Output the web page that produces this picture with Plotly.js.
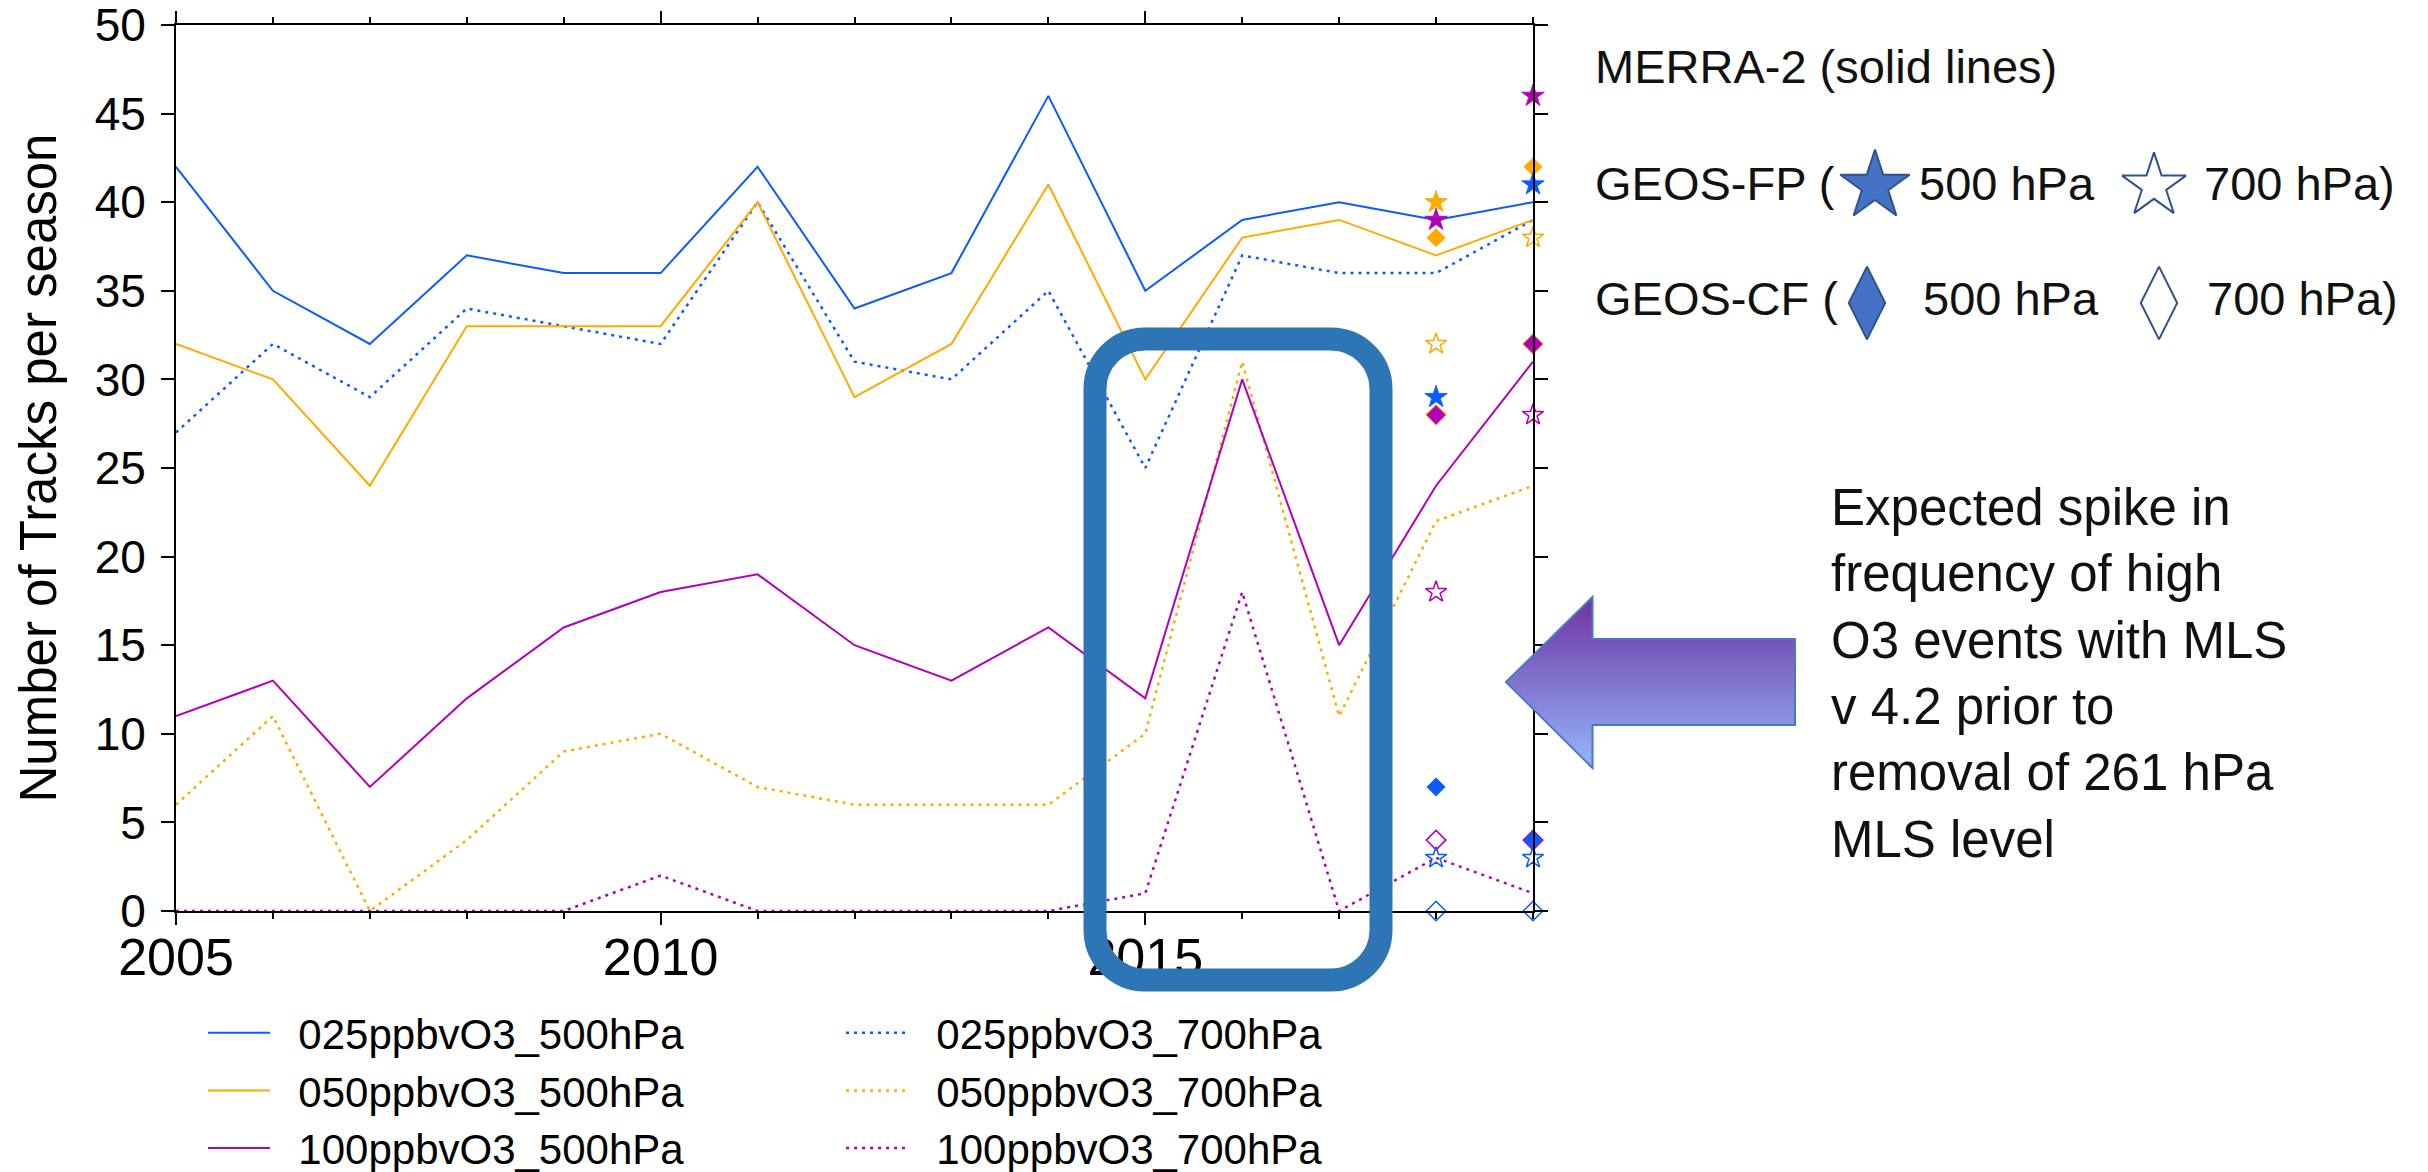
<!DOCTYPE html>
<html>
<head>
<meta charset="utf-8">
<script src="https://cdn.plot.ly/plotly-3.0.1.min.js"></script>
<style>html,body{margin:0;padding:0;background:#fff;}#chart{width:2428px;height:1172px;}</style>
</head>
<body>
<div id="chart"></div>
<script>
// ---------------- data ----------------
const years = [2005,2006,2007,2008,2009,2010,2011,2012,2013,2014,2015,2016,2017,2018,2019];
const o3_025_500 = [42,35,32,37,36,36,42,34,36,46,35,39,40,39,40];
const o3_050_500 = [32,30,24,33,33,33,40,29,32,41,30,38,39,37,39];
const o3_100_500 = [11,13,7,12,16,18,19,15,13,16,12,30,15,24,31];
const o3_025_700 = [27,32,29,34,33,32,40,31,30,35,25,37,36,36,39];
const o3_050_700 = [6,11,0,4,9,10,7,6,6,6,10,31,11,22,24];
const o3_100_700 = [0,0,0,0,0,2,0,0,0,0,1,18,0,3,1];

const geosYears = [2018, 2019];
const fp500_025 = [29, 41];
const fp500_050 = [40, null];
const fp500_100 = [39, 46];
const fp700_025 = [3, 3];
const fp700_050 = [32, 38];
const fp700_100 = [18, 28];
const cf500_025 = [7, 4];
const cf500_050 = [38, 42];
const cf500_100 = [28, 32];
const cf700_025 = [0, 0];
const cf700_050 = [28, 32];
const cf700_100 = [4, 4];

const seriesNames = ['025ppbvO3_500hPa','025ppbvO3_700hPa','050ppbvO3_500hPa','050ppbvO3_700hPa','100ppbvO3_500hPa','100ppbvO3_700hPa'];
const xTickVals = [2005, 2010, 2015];
const xTickText = ['2005', '2010', '2015'];
const yTickVals = [0, 5, 10, 15, 20, 25, 30, 35, 40, 45, 50];

// ---------------- styles ----------------
const BLUE = '#0a5aff', ORANGE = '#ffaa00', MAG = '#b200ba';
const FONT = 'Liberation Sans, Arial, Helvetica, sans-serif';
const DOT = '3px,5px';
const LEG_PAD = '\u00a0\u00a0';

function lineTrace(y, name, color, dotted) {
  return {x: years, y: y, name: LEG_PAD + name, type: 'scatter', mode: 'lines',
    legend: dotted ? 'legend2' : 'legend',
    line: {color: color, width: dotted ? 2.5 : 2, dash: dotted ? DOT : 'solid'},
    hoverinfo: 'skip'};
}
function markTrace(y, color, symbol, size, open) {
  return {x: geosYears, y: y, type: 'scatter', mode: 'markers', showlegend: false,
    cliponaxis: false, hoverinfo: 'skip',
    marker: {symbol: symbol, size: size, color: color,
      line: {color: color, width: open ? 1.5 : 0.8}}};
}

const traces = [
  lineTrace(o3_025_500, seriesNames[0], BLUE, false),
  lineTrace(o3_025_700, seriesNames[1], BLUE, true),
  lineTrace(o3_050_500, seriesNames[2], ORANGE, false),
  lineTrace(o3_050_700, seriesNames[3], ORANGE, true),
  lineTrace(o3_100_500, seriesNames[4], MAG, false),
  lineTrace(o3_100_700, seriesNames[5], MAG, true),
  // GEOS-CF 700 hPa (open diamonds)
  markTrace(cf700_050, ORANGE, 'diamond-open', 15, true),
  markTrace(cf700_100, MAG, 'diamond-open', 15, true),
  markTrace(cf700_025, BLUE, 'diamond-open', 15, true),
  // GEOS-CF 500 hPa (filled diamonds)
  markTrace(cf500_100, MAG, 'diamond', 14, false),
  markTrace(cf500_050, ORANGE, 'diamond', 14, false),
  markTrace(cf500_025, BLUE, 'diamond', 14, false),
  // GEOS-FP 700 hPa (open stars)
  markTrace(fp700_050, ORANGE, 'star-open', 16, true),
  markTrace(fp700_100, MAG, 'star-open', 16, true),
  markTrace(fp700_025, BLUE, 'star-open', 16, true),
  // GEOS-FP 500 hPa (filled stars)
  markTrace(fp500_025, BLUE, 'star', 17, false),
  markTrace(fp500_050, ORANGE, 'star', 17, false),
  markTrace(fp500_100, MAG, 'star', 17, false)
];

// ---------------- layout geometry (pixels -> paper) ----------------
const FIG_W = 2428, FIG_H = 1172;
const ML = 176, MT = 25, PH = 886;             // plot area top / height
const PAPER_W = FIG_W - ML;                    // paper spans to right edge
const AXIS_W = 1357;                           // width of the data axes
function PX(px) { return (px - ML) / PAPER_W; }
function PY(py) { return (MT + PH - py) / PH; }

// key markers (symbol legend for GEOS) on a full-width overlay subplot
const keyTraceBase = {xaxis: 'x2', yaxis: 'y2', type: 'scatter', mode: 'markers',
  showlegend: false, cliponaxis: false, hoverinfo: 'skip'};
traces.push(Object.assign({}, keyTraceBase, {x: [PX(1875)], y: [PY(186)],
  marker: {symbol: 'star', size: 52, color: '#4472c4', line: {color: '#2f528f', width: 2}}}));
traces.push(Object.assign({}, keyTraceBase, {x: [PX(2154)], y: [PY(186)],
  marker: {symbol: 'star-open', size: 48, color: '#2f528f', line: {color: '#2f528f', width: 2}}}));
traces.push(Object.assign({}, keyTraceBase, {x: [PX(1867)], y: [PY(303)],
  marker: {symbol: 'diamond-tall', size: 52, color: '#4472c4', line: {color: '#2f528f', width: 2}}}));
traces.push(Object.assign({}, keyTraceBase, {x: [PX(2159)], y: [PY(303)],
  marker: {symbol: 'diamond-tall-open', size: 52, color: '#2f528f', line: {color: '#2f528f', width: 2}}}));

// ---------------- shapes ----------------
const shapes = [];
const pp = (x, y) => PX(x).toFixed(5) + ',' + PY(y).toFixed(5);
// rounded highlight rectangle
(function() {
  const x0 = 1095, x1 = 1381, y0 = 339, y1 = 980, r = 50, k = 0.5523 * r;
  const d = 'M' + pp(x0 + r, y0) + ' L' + pp(x1 - r, y0) +
    ' C' + pp(x1 - r + k, y0) + ' ' + pp(x1, y0 + r - k) + ' ' + pp(x1, y0 + r) +
    ' L' + pp(x1, y1 - r) +
    ' C' + pp(x1, y1 - r + k) + ' ' + pp(x1 - r + k, y1) + ' ' + pp(x1 - r, y1) +
    ' L' + pp(x0 + r, y1) +
    ' C' + pp(x0 + r - k, y1) + ' ' + pp(x0, y1 - r + k) + ' ' + pp(x0, y1 - r) +
    ' L' + pp(x0, y0 + r) +
    ' C' + pp(x0, y0 + r - k) + ' ' + pp(x0 + r - k, y0) + ' ' + pp(x0 + r, y0) + ' Z';
  shapes.push({type: 'path', xref: 'paper', yref: 'paper', path: d, layer: 'above',
    line: {color: '#2e75b6', width: 23}, fillcolor: 'rgba(0,0,0,0)'});
})();
// gradient arrow pointing left
(function() {
  const tipX = 1506, tipY = 682, baseX = 1592.5, headTop = 597, headBot = 768;
  const bodyTop = 639, bodyBot = 725, bodyRight = 1795;
  const c0 = [110, 50, 160], c1 = [148, 184, 252];
  const xl = y => tipX + Math.abs(y - tipY) / (tipY - headTop) * (baseX - tipX);
  const bps = new Set([headTop, bodyTop, tipY, bodyBot, headBot]);
  for (let y = headTop; y < headBot; y += 3) bps.add(y);
  const ys = Array.from(bps).sort((a, b) => a - b);
  for (let i = 0; i < ys.length - 1; i++) {
    const a = ys[i], bb = ys[i + 1], b = Math.min(bb + 0.6, headBot);
    const mid = (a + bb) / 2;
    const xr = (mid > bodyTop && mid < bodyBot) ? bodyRight : baseX;
    const t = (mid - headTop) / (headBot - headTop);
    const col = 'rgb(' + c0.map((v, j) => Math.round(v + (c1[j] - v) * t)).join(',') + ')';
    const d = 'M' + pp(xl(a), a) + ' L' + pp(xr, a) + ' L' + pp(xr, b) + ' L' + pp(xl(bb), b) + ' Z';
    shapes.push({type: 'path', xref: 'paper', yref: 'paper', path: d, layer: 'above',
      line: {width: 0}, fillcolor: col});
  }
  const outline = 'M' + pp(tipX, tipY) + ' L' + pp(baseX, headTop) + ' L' + pp(baseX, bodyTop) +
    ' L' + pp(bodyRight, bodyTop) + ' L' + pp(bodyRight, bodyBot) + ' L' + pp(baseX, bodyBot) +
    ' L' + pp(baseX, headBot) + ' Z';
  shapes.push({type: 'path', xref: 'paper', yref: 'paper', path: outline, layer: 'above',
    line: {color: '#4a78c8', width: 2}, fillcolor: 'rgba(0,0,0,0)'});
})();

// ---------------- annotations ----------------
function txt(text, xpx, ypx, size, extra) {
  return Object.assign({text: text, xref: 'paper', yref: 'paper', x: PX(xpx), y: PY(ypx),
    xanchor: 'left', yanchor: 'middle', showarrow: false, align: 'left',
    font: {family: FONT, size: size, color: '#111'}}, extra || {});
}
const annotations = [
  txt('MERRA-2 (solid lines)', 1593, 67, 47),
  txt('GEOS-FP (', 1593, 183, 47),
  txt('500 hPa', 1917, 183, 47),
  txt('700 hPa)', 2202, 183, 47),
  txt('GEOS-CF (', 1593, 298, 47),
  txt('500 hPa', 1921, 298, 47),
  txt('700 hPa)', 2205, 298, 47),
  txt('Expected spike in<br>frequency of high<br>O3 events with MLS<br>v 4.2 prior to<br>removal of 261 hPa<br>MLS level', 1829, 673, 51)
];

const legendCommon = {
  orientation: 'v', xanchor: 'left', yanchor: 'top', y: PY(999),
  itemwidth: 62, font: {family: FONT, size: 42, color: '#000'},
  bgcolor: 'rgba(0,0,0,0)', borderwidth: 0, traceorder: 'normal'
};

const layout = {
  width: FIG_W, height: FIG_H,
  margin: {l: ML, r: 0, t: MT, b: FIG_H - MT - PH, autoexpand: false},
  paper_bgcolor: '#ffffff', plot_bgcolor: 'rgba(0,0,0,0)',
  font: {family: FONT, color: '#000'},
  showlegend: true,
  xaxis: {
    domain: [0, AXIS_W / PAPER_W], anchor: 'y',
    range: [2005, 2019], tickmode: 'array', tickvals: xTickVals, ticktext: xTickText,
    ticks: 'outside', ticklen: 12, tickwidth: 2, tickcolor: '#000',
    minor: {dtick: 1, tick0: 2005, ticks: 'outside', ticklen: 6, tickwidth: 2, tickcolor: '#000', showgrid: false},
    showline: true, linecolor: '#000', linewidth: 2, mirror: 'ticks',
    showgrid: false, zeroline: false,
    tickfont: {family: FONT, size: 52, color: '#000'}, ticklabelstandoff: -12
  },
  yaxis: {
    domain: [0, 1], anchor: 'x',
    range: [0, 50], tickmode: 'array', tickvals: yTickVals,
    ticks: 'outside', ticklen: 13, tickwidth: 2, tickcolor: '#000',
    showline: true, linecolor: '#000', linewidth: 2, mirror: 'ticks',
    showgrid: false, zeroline: false, ticklabeloverflow: 'allow',
    tickfont: {family: FONT, size: 46, color: '#000'}, ticklabelstandoff: 6,
    title: {text: 'Number of Tracks per season', font: {family: FONT, size: 51, color: '#000'}, standoff: 22}
  },
  xaxis2: {domain: [0, 1], anchor: 'y2', range: [0, 1], visible: false, fixedrange: true},
  yaxis2: {domain: [0, 1], anchor: 'x2', range: [0, 1], visible: false, fixedrange: true},
  legend: Object.assign({}, legendCommon, {x: PX(203)}),
  legend2: Object.assign({}, legendCommon, {x: PX(841)}),
  shapes: shapes,
  annotations: annotations
};

Plotly.newPlot('chart', traces, layout, {staticPlot: true, displayModeBar: false});
</script>
</body>
</html>
